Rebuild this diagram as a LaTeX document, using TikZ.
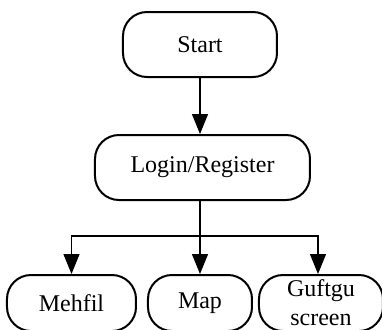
\documentclass[tikz,border=0pt]{standalone}
\usepackage{fontspec}
\setmainfont{Liberation Serif}
\usepackage{tikz}
\usetikzlibrary{positioning, arrows.meta}

\begin{document}
\begin{tikzpicture}[
    node distance = 28pt,
    box/.style = {
        draw, line width=1pt, rectangle, rounded corners=12pt,
        minimum height=32.5pt, align=center, inner sep=2pt,
        font=\fontsize{12}{14.5}\selectfont
    },
    leaf/.style = {box, minimum height=28pt},
    link/.style = {-{Triangle[width=8pt,length=10pt]}, line width=0.65pt}
  ]
    \clip (0,0) rectangle (191pt,-164.5pt);
    \node[box, minimum width=77pt] (start) at (100pt,-22.25pt) {Start};  % top
    \node[box, minimum width=107.5pt, below=of start, xshift=1.25pt] (login) {Login/Register};
    \node[leaf, minimum width=52pt, below=36.5pt of login.south -| start.south, anchor=north] (map) {Map};
    \node[leaf, minimum width=64.5pt, left=5pt of map] (mehfil) {Mehfil};
    \node[leaf, minimum width=62pt, right=2.5pt of map] (guftgu) {Guftgu\\screen};  % two lines
    \coordinate (fork) at (100pt,-118pt);

    \draw[link] (start.south) -- (start.south |- login.north);
    \draw[line width=0.65pt] (login.south -| fork) -- (fork);
    \draw[link] (fork) -| (mehfil.north);
    \draw[link] (fork) -- (map.north);
    \draw[link] (fork) -| ([xshift=-1.5pt]guftgu.north);
\end{tikzpicture}
\end{document}
